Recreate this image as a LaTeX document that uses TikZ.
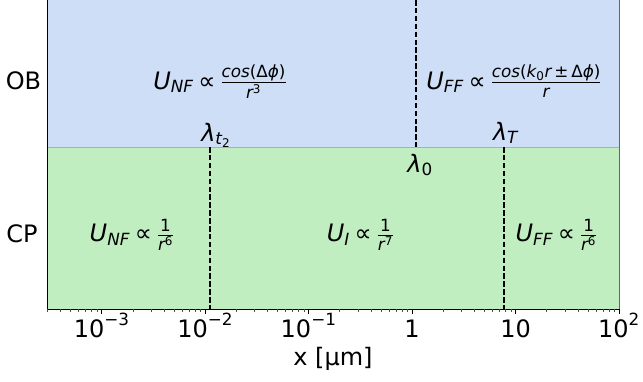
\documentclass[tikz,border=0pt]{standalone}
\usepackage{amsmath}
\usepackage{fontspec}
\setmainfont{DejaVu Sans}
\newcommand\mi[1]{\text{\itshape #1}}
\newcommand\mr[1]{\text{\upshape #1}}
\newcommand\prp{\mskip3.5mu\mr{∝}\mskip3.5mu}
\definecolor{obblue}{HTML}{CFDEF7}
\definecolor{cpgreen}{HTML}{C1EEC1}
\definecolor{edgeblue}{HTML}{8CB8D6}
\begin{document}
\begin{tikzpicture}[x=1pt,y=-1pt,
  font=\fontsize{24}{28}\selectfont,
  lbl/.style={inner sep=0pt, anchor=base},
  vline/.style={line width=1.7pt, dash pattern=on 5.5pt off 2.4pt},
  declare function={X(\v)=619+(\v-2)*103.46;}]
\useasboundingbox (0,0) rectangle (643,381);
% regions
\fill[obblue] (47,0) rectangle (619,147);
\fill[cpgreen] (47,147) rectangle (619,309);
\draw[edgeblue, line width=1pt] (47,147) -- (619,147);
% dashed boundaries
\coordinate (t2a) at (209.7,147); \coordinate (t2b) at (209.7,309);
\coordinate (l0a) at (415.7,0);   \coordinate (l0b) at (415.7,147);
\coordinate (lTa) at (504,147);   \coordinate (lTb) at (504,309);
\draw[vline] (t2a) -- (t2b);
\draw[vline] (l0a) -- (l0b);
\draw[vline] (lTa) -- (lTb);
% spines
\draw[black!60, line width=1pt] (619,0) -- (619,309);
\draw[black, line width=1pt] (47,0) -- (47,309) -- (619,309);
% ticks
\foreach \d in {-3,...,2} {
  \draw[black, line width=0.9pt] ({X(\d)},309) -- ({X(\d)},313.5);
}
\foreach \d in {-4,...,1} {
  \foreach \k in {2,...,9} {
    \pgfmathsetmacro\xx{X(\d+log10(\k))}
    \pgfmathparse{\xx>47 ? 1 : 0}
    \ifnum\pgfmathresult=1
      \draw[black!70, line width=0.6pt] (\xx,309) -- (\xx,311.5);
    \fi
  }
}
% tick labels
\node[lbl] (tk1) at ({X(-3)},337) {$\mr{10}^{\mr{−3}}$};
\node[lbl] (tk2) at ({X(-2)},337) {$\mr{10}^{\mr{−2}}$};
\node[lbl] (tk3) at ({X(-1)},337) {$\mr{10}^{\mr{−1}}$};
\node[lbl] (tk4) at ({X(0)},337) {1};
\node[lbl] (tk5) at ({X(1)},337) {10};
\node[lbl] (tk6) at ({X(2)},337) {$\mr{10}^{\mr{2}}$};
\node[lbl] (xlab) at (333,365) {x [µm]};
% row labels
\node[lbl] (ob) at (23.5,89) {OB};
\node[lbl] (cp) at (22,242) {CP};
% formulas
\node[lbl] (unf) at (220,89) {$\mi{U}_{\mi{NF}} \prp \frac{\mi{cos}\mr{(Δ}\mi{ϕ}\mr{)}}{\mi{r}^{\mr{3}}}$};
\node[lbl] (uff) at (514,89) {$\mi{U}_{\mi{FF}} \prp \frac{\mi{cos}\mr{(}\mi{k}_{\mr{0}}\mi{r}\,\mr{±}\,\mr{Δ}\mi{ϕ}\mr{)}}{\mi{r}}$};
\node[lbl] (lt2) at (216,141) {$\mi{λ}_{\mi{t}_{\mr{2}}}$};
\node[lbl] (lT) at (505.5,140) {$\mi{λ}_{\mi{T}}$};
\node[lbl] (l0) at (420,172) {$\mi{λ}_{\mr{0}}$};
\node[lbl] (cnf) at (132,241.7) {$\mi{U}_{\mi{NF}} \prp \frac{\mr{1}}{\mi{r}^{\mr{6}}}$};
\node[lbl] (ci) at (360.5,241.7) {$\mi{U}_{\mi{I}} \prp \frac{\mr{1}}{\mi{r}^{\mr{7}}}$};
\node[lbl] (cff) at (556.5,241.7) {$\mi{U}_{\mi{FF}} \prp \frac{\mr{1}}{\mi{r}^{\mr{6}}}$};
\end{tikzpicture}
\end{document}
